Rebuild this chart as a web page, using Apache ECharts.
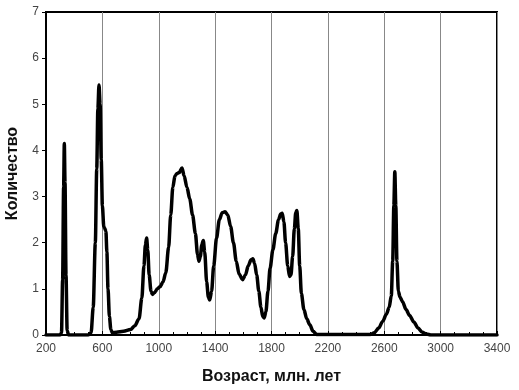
<!DOCTYPE html>
<html><head><meta charset="utf-8">
<script src="https://cdn.jsdelivr.net/npm/echarts@6/dist/echarts.min.js"></script>
<style>html,body{margin:0;padding:0;background:#fff}#c{width:519px;height:390px}</style>
</head><body><div id="c"></div>
<script>
const ages = [200,300,310,318,325,330,335,342,350,360,500,520,535,550,560,568,576,584,592,600,610,618,625,632,640,650,660,670,700,750,800,830,860,880,895,905,914,922,932,945,955,970,990,1010,1030,1050,1070,1085,1100,1115,1130,1145,1165,1180,1200,1220,1240,1260,1275,1285,1295,1305,1316,1326,1340,1352,1362,1375,1390,1410,1430,1450,1470,1490,1510,1530,1550,1570,1595,1615,1635,1655,1668,1680,1695,1710,1725,1738,1748,1760,1775,1790,1810,1830,1850,1865,1876,1888,1900,1915,1928,1938,1950,1962,1972,1980,1990,2000,2012,2030,2050,2072,2095,2120,2500,2530,2560,2590,2615,2635,2650,2660,2668,2675,2682,2690,2700,2712,2730,2755,2780,2810,2840,2870,2900,2930,3400];
const counts = [0,0,0.05,1.2,3.2,4.15,3.3,1.3,0.1,0,0,0.05,0.6,2.0,3.6,4.9,5.42,5.0,3.8,2.8,2.35,2.3,2.25,1.8,1.0,0.4,0.12,0.05,0.06,0.08,0.12,0.2,0.35,0.8,1.5,1.95,2.1,1.85,1.3,0.95,0.88,0.92,1.0,1.05,1.15,1.35,1.9,2.6,3.2,3.45,3.5,3.52,3.62,3.45,3.2,2.95,2.6,2.2,1.75,1.6,1.7,1.95,2.05,1.8,1.15,0.82,0.76,0.95,1.5,2.1,2.5,2.65,2.67,2.6,2.35,2.0,1.6,1.32,1.2,1.3,1.5,1.63,1.65,1.55,1.3,0.95,0.6,0.4,0.37,0.5,0.95,1.45,1.85,2.2,2.5,2.62,2.64,2.45,2.0,1.5,1.27,1.3,1.7,2.3,2.65,2.7,2.3,1.5,0.9,0.55,0.35,0.22,0.08,0.01,0.01,0.05,0.15,0.3,0.45,0.6,0.85,1.6,2.8,3.54,2.8,1.6,0.95,0.82,0.72,0.55,0.42,0.28,0.15,0.06,0.02,0,0];
const xTitle = 'Возраст, млн. лет';
const yTitle = 'Количество';

const chart = echarts.init(document.getElementById('c'));
const font = '"Liberation Sans", Arial, sans-serif';
chart.setOption({
  animation: false,
  backgroundColor: '#fff',
  grid: {left: 46, right: 22, top: 12, bottom: 55, outerBoundsMode: 'none', containLabel: false,
         show: true, borderColor: '#000', borderWidth: 2},
  xAxis: {
    type: 'value', min: 200, max: 3400, interval: 400,
    name: xTitle, nameLocation: 'middle', nameGap: 34,
    nameTextStyle: {fontFamily: font, fontSize: 16, fontWeight: 'bold', color: '#111'},
    axisLine: {lineStyle: {color: '#000', width: 2}},
    axisTick: {inside: true, length: 4, lineStyle: {color: '#000'}},
    minorTick: {show: true, splitNumber: 4, length: 3, lineStyle: {color: '#000'}},
    axisLabel: {fontFamily: font, fontSize: 12, color: '#444', margin: 8, formatter: v => String(v)},
    splitLine: {show: true, lineStyle: {color: '#888', width: 1}}
  },
  yAxis: {
    type: 'value', min: 0, max: 7, interval: 1,
    name: yTitle, nameLocation: 'middle', nameGap: 25, nameRotate: 90,
    nameTextStyle: {fontFamily: font, fontSize: 16, fontWeight: 'bold', color: '#111'},
    axisLine: {show: true, lineStyle: {color: '#000', width: 2}},
    axisTick: {show: true, length: 4, lineStyle: {color: '#000'}},
    axisLabel: {fontFamily: font, fontSize: 12, color: '#444', margin: 7},
    splitLine: {show: false}
  },
  series: [{
    type: 'line', data: ages.map((a, i) => [a, counts[i]]),
    smooth: 0.3, smoothMonotone: 'x', showSymbol: false,
    lineStyle: {color: '#000', width: 3.5, join: 'round', cap: 'round'}
  }]
});
</script></body></html>
